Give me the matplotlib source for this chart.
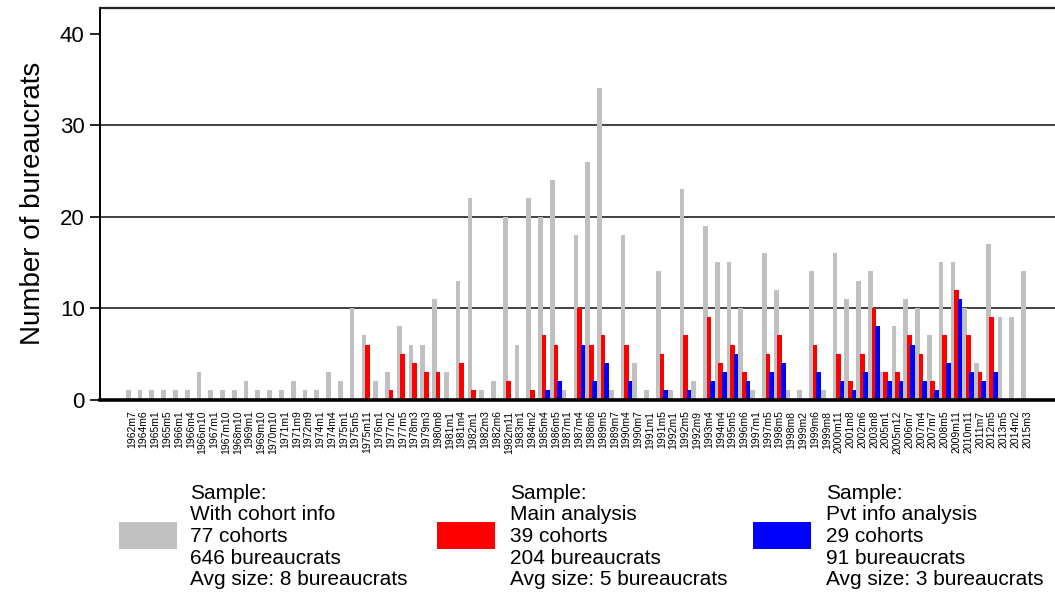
import numpy as np
import matplotlib
matplotlib.use("Agg")
import matplotlib.pyplot as plt
from matplotlib.patches import Rectangle

plt.rcParams['font.family'] = ['Liberation Sans', 'DejaVu Sans']

# cohort labels (year + month of entry)
cohorts = ['1962m7', '1964m6', '1965m1', '1965m5', '1966m1', '1966m4', '1966m10', '1967m1',
           '1967m10', '1968m10', '1969m1', '1969m10', '1970m10', '1971m1', '1971m9', '1972m9',
           '1974m1', '1974m4', '1975m1', '1975m5', '1975m11', '1976m1', '1977m2', '1977m5',
           '1978m3', '1979m3', '1980m8', '1981m1', '1981m4', '1982m1', '1982m3', '1982m6',
           '1982m11', '1983m1', '1984m2', '1985m4', '1986m5', '1987m1', '1987m4', '1988m6',
           '1989m5', '1989m7', '1990m4', '1990m7', '1991m1', '1991m5', '1992m1', '1992m5',
           '1992m9', '1993m4', '1994m4', '1995m5', '1996m6', '1997m1', '1997m5', '1998m5',
           '1998m8', '1999m2', '1999m6', '1999m8', '2000m11', '2001m8', '2002m6', '2003m8',
           '2005m1', '2005m12', '2006m7', '2007m4', '2007m7', '2008m5', '2009m11', '2010m11',
           '2011m7', '2012m5', '2013m5', '2014m2', '2015m3']

# bureaucrats per cohort: full sample with cohort info
with_info = [1, 1, 1, 1, 1, 1, 3, 1, 1, 1, 2, 1, 1, 1, 2, 1,
             1, 3, 2, 10, 7, 2, 3, 8, 6, 6, 11, 3, 13, 22, 1, 2,
             20, 6, 22, 20, 24, 1, 18, 26, 34, 1, 18, 4, 1, 14, 1, 23,
             2, 19, 15, 15, 10, 1, 16, 12, 1, 1, 14, 1, 16, 11, 13, 14,
             3, 8, 11, 10, 7, 15, 15, 10, 4, 17, 9, 9, 14]

# main analysis sample
main = [0, 0, 0, 0, 0, 0, 0, 0, 0, 0, 0, 0, 0, 0, 0, 0,
        0, 0, 0, 0, 6, 0, 1, 5, 4, 3, 3, 0, 4, 1, 0, 0,
        2, 0, 1, 7, 6, 0, 10, 6, 7, 0, 6, 0, 0, 5, 0, 7,
        0, 9, 4, 6, 3, 0, 5, 7, 0, 0, 6, 0, 5, 2, 5, 10,
        3, 3, 7, 5, 2, 7, 12, 7, 3, 9, 0, 0, 0]

# private info analysis sample
pvt = [0, 0, 0, 0, 0, 0, 0, 0, 0, 0, 0, 0, 0, 0, 0, 0,
       0, 0, 0, 0, 0, 0, 0, 0, 0, 0, 0, 0, 0, 0, 0, 0,
       0, 0, 0, 1, 2, 0, 6, 2, 4, 0, 2, 0, 0, 1, 0, 1,
       0, 2, 3, 5, 2, 0, 3, 4, 0, 0, 3, 0, 2, 1, 3, 8,
       2, 2, 6, 2, 1, 4, 11, 3, 2, 3, 0, 0, 0]

legend_lines = [
    ['Sample:', 'With cohort info', '77 cohorts', '646 bureaucrats', 'Avg size: 8 bureaucrats'],
    ['Sample:', 'Main analysis', '39 cohorts', '204 bureaucrats', 'Avg size: 5 bureaucrats'],
    ['Sample:', 'Pvt info analysis', '29 cohorts', '91 bureaucrats', 'Avg size: 3 bureaucrats'],
]

GRAY = '#c0c0c0'
RED = '#ff0000'
BLUE = '#0000ff'

W, H = 1055, 592
fig = plt.figure(figsize=(W / 100, H / 100), dpi=100)
ax = fig.add_axes([100 / W, (H - 399.5) / H, (W - 100) / W, (399.5 - 8) / H])

x = np.arange(len(cohorts))
bw = 0.4
ax.bar(x - 0.3, with_info, width=bw, color=GRAY, linewidth=0, zorder=3)
ax.bar(x, main, width=bw, color=RED, linewidth=0, zorder=4)
ax.bar(x + 0.3, pvt, width=bw, color=BLUE, linewidth=0, zorder=5)

ax.set_xlim(-2.70, 78.37)
ax.set_ylim(0, 42.8)

for g in [10, 20, 30]:
    ax.axhline(g, color='#333333', lw=1.3, zorder=1)

ax.set_yticks([0, 10, 20, 30, 40])
ax.tick_params(axis='y', labelsize=16, length=7, width=1.2, pad=4, direction='out')
ax.set_xticks(x)
ax.set_xticklabels(cohorts, rotation=90, fontsize=7.5)
ax.tick_params(axis='x', length=0, pad=8)
ax.set_ylabel('Number of bureaucrats', fontsize=20, labelpad=10)

ax.spines['right'].set_visible(False)
ax.spines['left'].set_linewidth(1.4)
ax.spines['top'].set_linewidth(1.6)
ax.spines['top'].set_color('#222222')
ax.spines['bottom'].set_linewidth(2.6)
ax.spines['bottom'].set_zorder(6)

# legend: colour swatch + stacked text for each sample
swatch_x = [119, 437, 753]
text_x = [190, 510, 826]
colors = [GRAY, RED, BLUE]
baselines = [499, 520.5, 542, 563.5, 585]
for sx, tx, c, lines in zip(swatch_x, text_x, colors, legend_lines):
    fig.add_artist(Rectangle((sx / W, (H - 549) / H), 58 / W, 27 / H,
                             transform=fig.transFigure, color=c, lw=0))
    for yb, t in zip(baselines, lines):
        fig.text(tx / W, (H - yb) / H, t, fontsize=15, va='baseline', ha='left')

fig.savefig('out.png', dpi=100)
